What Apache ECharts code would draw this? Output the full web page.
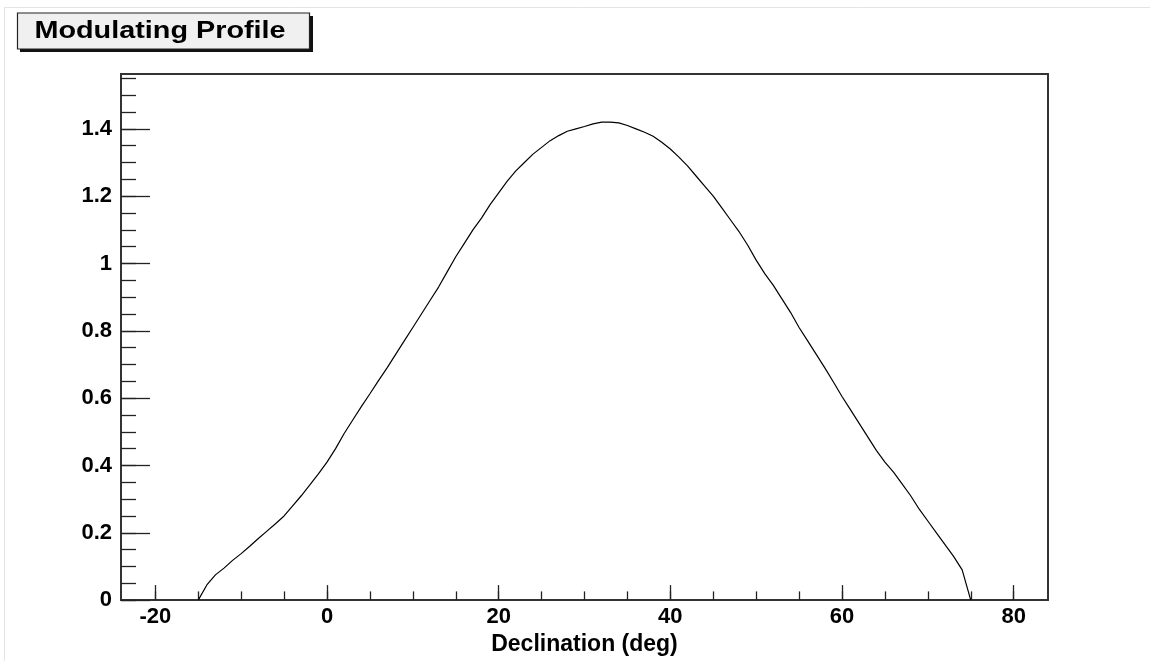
<!DOCTYPE html>
<html>
<head>
<meta charset="utf-8">
<script src="https://cdn.jsdelivr.net/npm/echarts@6/dist/echarts.min.js"></script>
<style>
html,body{margin:0;padding:0;background:#fff;}
#chart{width:1150px;height:661px;}
</style>
</head>
<body>
<div id="chart"></div>
<script>
const declination = [-15,-14,-13,-12,-11,-10,-9,-8,-7,-6,-5,-4,-3,-2,-1,0,1,2,3,4,5,6,7,8,9,10,11,12,13,14,15,16,17,18,19,20,21,22,23,24,25,26,27,28,29,30,31,32,33,34,35,36,37,38,39,40,41,42,43,44,45,46,47,48,49,50,51,52,53,54,55,56,57,58,59,60,61,62,63,64,65,66,67,68,69,70,71,72,73,74,75];
const profile = [0,0.045,0.075,0.095,0.118,0.138,0.16,0.183,0.205,0.227,0.25,0.28,0.31,0.342,0.375,0.41,0.45,0.495,0.535,0.575,0.613,0.652,0.69,0.73,0.77,0.81,0.85,0.89,0.93,0.975,1.02,1.06,1.10,1.135,1.175,1.21,1.245,1.275,1.30,1.325,1.345,1.365,1.38,1.393,1.40,1.407,1.415,1.42,1.42,1.418,1.41,1.40,1.39,1.378,1.36,1.34,1.316,1.29,1.26,1.23,1.20,1.165,1.13,1.095,1.055,1.01,0.97,0.935,0.895,0.855,0.81,0.77,0.73,0.69,0.648,0.605,0.565,0.525,0.485,0.445,0.41,0.38,0.345,0.31,0.27,0.235,0.20,0.165,0.13,0.09,0];
const xMajorTicks = [-20,0,20,40,60,80];
const xMinorTicks = [-20,-15,-10,-5,0,5,10,15,20,25,30,35,40,45,50,55,60,65,70,75,80];
const yMajorTicks = [0,0.2,0.4,0.6,0.8,1,1.2,1.4];
const yMinorTicks = [0,0.05,0.1,0.15,0.2,0.25,0.3,0.35,0.4,0.45,0.5,0.55,0.6,0.65,0.7,0.75,0.8,0.85,0.9,0.95,1,1.05,1.1,1.15,1.2,1.25,1.3,1.35,1.4,1.45,1.5,1.55];
const titleText = 'Modulating Profile';
const xTitle = 'Declination (deg)';

const FONT = "'Liberation Sans', Arial, Helvetica, sans-serif";
const X_MIN = -24, X_MAX = 84, Y_MIN = 0, Y_MAX = 1.563;

const chart = echarts.init(document.getElementById('chart'), null, {renderer: 'canvas'});
const lineData = declination.map((d, i) => [d, profile[i]]);

const tickStyle = {color: '#222', width: 1.3};
const labelStyle = {color: '#000', fontFamily: FONT, fontWeight: 'bold', fontSize: 22};
const noLine = {show: false, onZero: false};

chart.setOption({
  backgroundColor: '#fff',
  animation: false,
  grid: {left: 121, top: 74, right: 102, bottom: 59, show: true, borderColor: '#333', borderWidth: 2, backgroundColor: 'transparent'},
  xAxis: [
    {type: 'value', min: X_MIN, max: X_MAX, position: 'bottom',
     axisLine: noLine, splitLine: {show: false},
     axisTick: {show: true, inside: true, length: 15, lineStyle: tickStyle, customValues: xMajorTicks},
     axisLabel: Object.assign({show: true, margin: 6, customValues: xMajorTicks}, labelStyle),
     name: xTitle, nameLocation: 'middle', nameGap: 32,
     nameTextStyle: {color: '#000', fontFamily: FONT, fontWeight: 'bold', fontSize: 23}},
    {type: 'value', min: X_MIN, max: X_MAX, position: 'bottom',
     axisLine: noLine, splitLine: {show: false},
     axisTick: {show: true, inside: true, length: 8.7, lineStyle: tickStyle, customValues: xMinorTicks},
     axisLabel: {show: false}}
  ],
  yAxis: [
    {type: 'value', min: Y_MIN, max: Y_MAX, position: 'left',
     axisLine: noLine, splitLine: {show: false},
     axisTick: {show: true, inside: true, length: 29, lineStyle: tickStyle, customValues: yMajorTicks},
     axisLabel: Object.assign({show: true, margin: 9, customValues: yMajorTicks}, labelStyle)},
    {type: 'value', min: Y_MIN, max: Y_MAX, position: 'left',
     axisLine: noLine, splitLine: {show: false},
     axisTick: {show: true, inside: true, length: 15, lineStyle: tickStyle, customValues: yMinorTicks},
     axisLabel: {show: false}}
  ],
  series: [{
    type: 'line', xAxisIndex: 0, yAxisIndex: 0, data: lineData,
    showSymbol: false, symbol: 'none', smooth: false,
    lineStyle: {color: '#000', width: 1.2}, clip: true
  }],
  graphic: [
    {type: 'line', shape: {x1: 4.5, y1: 7.5, x2: 1150, y2: 7.5}, style: {stroke: '#e4e4e4', lineWidth: 1}, silent: true},
    {type: 'line', shape: {x1: 4.5, y1: 7.5, x2: 4.5, y2: 661}, style: {stroke: '#e4e4e4', lineWidth: 1}, silent: true},
    {type: 'rect', shape: {x: 20, y: 16, width: 293, height: 36}, style: {fill: '#111'}, silent: true},
    {type: 'rect', shape: {x: 17.5, y: 13, width: 292, height: 36}, style: {fill: '#f0f0f0', stroke: '#222', lineWidth: 1.2}, silent: true},
    {type: 'text', x: 160, y: 31, scaleX: 1.2, style: {text: titleText, fill: '#000', font: "bold 24px 'Liberation Sans', Arial, sans-serif", textAlign: 'center', textVerticalAlign: 'middle'}, silent: true}
  ]
});
</script>
</body>
</html>
